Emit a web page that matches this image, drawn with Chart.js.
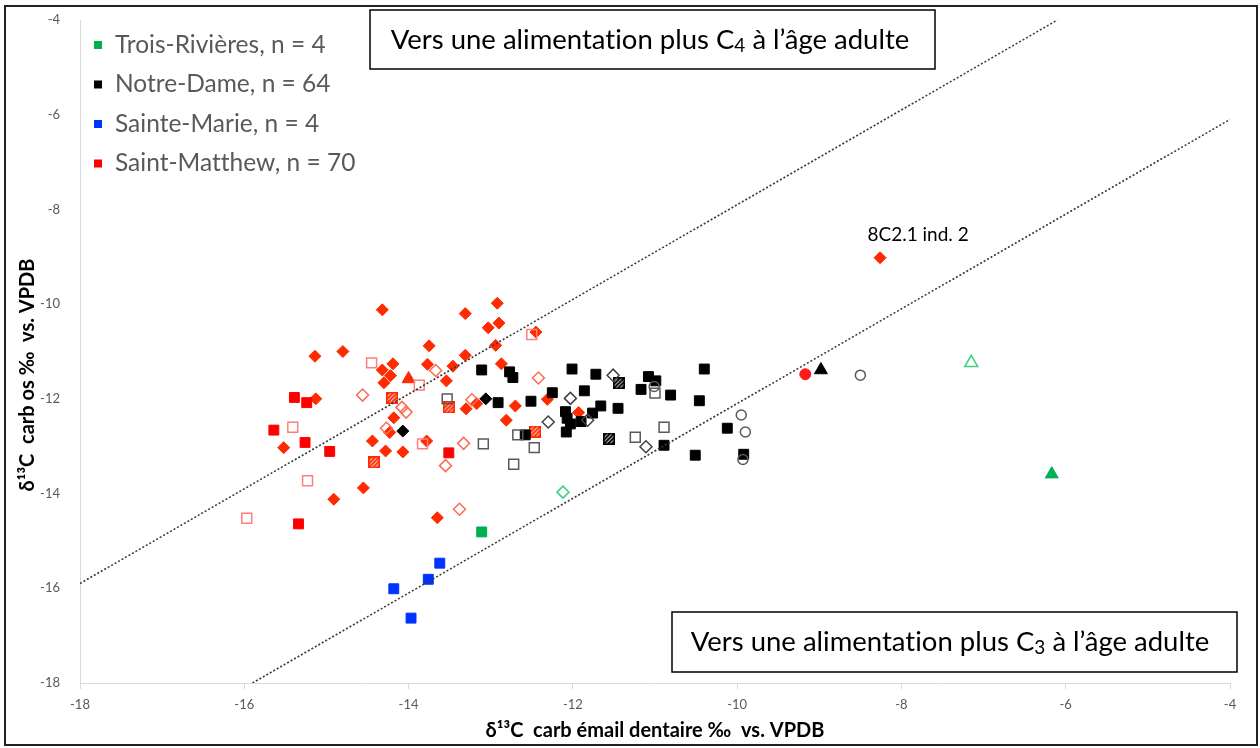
<!DOCTYPE html>
<html lang="fr">
<head>
<meta charset="utf-8">
<title>δ13C os vs émail dentaire</title>
<script src="https://cdn.jsdelivr.net/npm/chart.js@4.4.1/dist/chart.umd.min.js"></script>
<style>
  html, body { margin: 0; padding: 0; background: #fff; }
  #wrap { width: 1260px; height: 748px; position: relative; }
</style>
</head>
<body>
<div id="wrap"><canvas id="isoChart" width="1260" height="748"></canvas></div>
<script>
// [δ13C émail, δ13C os] pairs, grouped by site and marker
const stMatthewDiamonds = [
  [-14.32, -10.12], [-15.14, -11.10], [-14.80, -11.00], [-14.19, -11.26], [-14.32, -11.39],
  [-14.22, -11.51], [-14.30, -11.66], [-15.13, -12.00], [-14.18, -12.40], [-14.23, -12.71],
  [-15.52, -13.03], [-14.44, -12.89], [-14.28, -13.10], [-14.07, -13.12], [-14.55, -13.88],
  [-14.91, -14.12], [-12.92, -9.98], [-13.31, -10.20], [-13.03, -10.50], [-12.90, -10.40],
  [-12.45, -10.59], [-13.75, -10.88], [-12.94, -10.87], [-13.31, -11.08], [-13.77, -11.27],
  [-13.46, -11.31], [-12.87, -11.26], [-13.54, -11.62], [-13.30, -12.21], [-13.17, -12.10],
  [-12.70, -12.15], [-12.81, -12.45], [-12.31, -12.01], [-13.78, -12.89], [-13.65, -14.51],
  [-11.93, -12.29], [-8.26, -9.02]
];
const stMatthewSquares = [
  [-15.39, -11.97], [-15.24, -12.08], [-15.64, -12.66], [-15.26, -12.92], [-14.96, -13.11],
  [-15.34, -14.64], [-13.51, -13.14]
];
const stMatthewOpenSquares = [
  [-14.45, -11.24], [-15.41, -12.60], [-15.23, -13.73], [-15.97, -14.52], [-13.87, -11.71],
  [-13.83, -12.95], [-12.50, -10.64]
];
const stMatthewOpenDiamonds = [
  [-14.56, -11.92], [-14.08, -12.18], [-14.03, -12.28], [-14.27, -12.62], [-13.67, -11.40],
  [-12.42, -11.56], [-13.23, -12.02], [-13.33, -12.94], [-13.55, -13.41], [-13.38, -14.33]
];
const stMatthewHatched = [[-14.20, -11.98], [-14.42, -13.34], [-13.51, -12.18], [-12.46, -12.69]];
const stMatthewTriangles = [[-14.00, -11.58]];
const stMatthewCircles = [[-9.17, -11.48]];

const notreDameSquares = [
  [-13.11, -11.39], [-12.77, -11.43], [-12.73, -11.55], [-12.91, -12.08], [-12.51, -12.05],
  [-12.25, -11.87], [-12.01, -11.37], [-12.58, -12.76], [-12.09, -12.27], [-12.07, -12.41],
  [-12.03, -12.53], [-12.08, -12.70], [-11.90, -12.48], [-11.76, -12.30], [-11.66, -12.15],
  [-11.45, -12.20], [-11.86, -11.83], [-11.72, -11.48], [-11.08, -11.53], [-10.99, -11.62],
  [-11.17, -11.80], [-10.81, -11.92], [-10.40, -11.37], [-10.46, -12.04], [-10.89, -12.98],
  [-10.51, -13.19], [-10.12, -12.62], [-9.92, -13.17]
];
const notreDameDiamonds = [[-13.06, -12.00], [-14.07, -12.68]];
const notreDameTriangles = [[-8.98, -11.39]];
const notreDameHatched = [[-11.44, -11.67], [-11.56, -12.84]];
const notreDameOpenSquares = [
  [-13.53, -12.00], [-13.09, -12.95], [-12.72, -13.38], [-12.47, -13.03], [-12.67, -12.76],
  [-11.00, -11.88], [-10.89, -12.60], [-11.24, -12.81]
];
const notreDameOpenDiamonds = [
  [-12.03, -11.99], [-12.30, -12.49], [-11.51, -11.50], [-11.82, -12.45], [-11.11, -13.01]
];
const notreDameOpenCircles = [
  [-11.01, -11.74], [-9.95, -12.34], [-9.90, -12.70], [-9.93, -13.28], [-8.50, -11.50]
];

const steMarieSquares = [[-13.62, -15.47], [-13.76, -15.81], [-14.18, -16.01], [-13.97, -16.63]];

const troisRivSquares = [[-13.11, -14.81]];
const troisRivOpenDiamonds = [[-12.12, -13.97]];
const troisRivOpenTriangles = [[-7.15, -11.24]];
const troisRivTriangles = [[-6.17, -13.59]];

// dotted guides, one either side of the 1:1 line
const upperGuide = [[-18, -15.9], [-6.1, -4]];
const lowerGuide = [[-15.9, -18], [-4, -6.1]];

const siteNames = ['Trois-Rivières', 'Notre-Dame', 'Sainte-Marie', 'Saint-Matthew'];
const siteCounts = [4, 64, 4, 70];
const siteColors = ['#00b050', '#000000', '#0033ff', '#ff0000'];

const axisTicks = [-18, -16, -14, -12, -10, -8, -6, -4];

const FONT = 'Lato, "Open Sans", sans-serif';

function pts(arr) {
  return arr.map(p => ({ x: p[0], y: p[1] }));
}

function hatchedSquare(color) {
  const c = document.createElement('canvas');
  c.width = 12; c.height = 12;
  const g = c.getContext('2d');
  g.fillStyle = '#fff';
  g.fillRect(0, 0, 12, 12);
  g.save();
  g.beginPath(); g.rect(1, 1, 10, 10); g.clip();
  g.strokeStyle = color; g.lineWidth = 2;
  for (let k = -12; k < 24; k += 4) {
    g.beginPath(); g.moveTo(k, 12); g.lineTo(k + 12, 0); g.stroke();
  }
  g.restore();
  g.strokeStyle = color; g.lineWidth = 1.5;
  g.strokeRect(0.75, 0.75, 10.5, 10.5);
  return c;
}

function marks(label, arr, style) {
  return Object.assign({ label: label, data: pts(arr), showLine: false, borderWidth: 1 }, style);
}

const filled = (shape, color, r) => ({ pointStyle: shape, pointRadius: r, backgroundColor: color, borderColor: color });
const hollow = (shape, color, r) => ({ pointStyle: shape, pointRadius: r, backgroundColor: 'rgba(255,255,255,0)', borderColor: color, borderWidth: 1.5 });

const guide = (arr) => ({
  label: 'guide', data: pts(arr), showLine: true, pointRadius: 0,
  borderColor: '#3a3a3a', borderWidth: 1.6, borderDash: [2, 2], fill: false
});

const datasets = [
  guide(upperGuide),
  guide(lowerGuide),
  marks('Notre-Dame open squares', notreDameOpenSquares, hollow('rect', '#595959', 7)),
  marks('Notre-Dame open diamonds', notreDameOpenDiamonds, hollow('rectRot', '#404040', 6)),
  marks('Notre-Dame open circles', notreDameOpenCircles, hollow('circle', '#595959', 5)),
  marks('Saint-Matthew open squares', stMatthewOpenSquares, hollow('rect', '#ff7f7f', 7)),
  marks('Saint-Matthew open diamonds', stMatthewOpenDiamonds, hollow('rectRot', '#ff6a55', 6)),
  marks('Notre-Dame', notreDameSquares, filled('rect', '#000000', 7)),
  marks('Notre-Dame diamonds', notreDameDiamonds, filled('rectRot', '#000000', 6)),
  marks('Notre-Dame triangles', notreDameTriangles, filled('triangle', '#000000', 7.5)),
  marks('Notre-Dame hatched', notreDameHatched, { pointStyle: hatchedSquare('#000000') }),
  marks('Saint-Matthew', stMatthewSquares, filled('rect', '#ff0000', 7)),
  marks('Saint-Matthew diamonds', stMatthewDiamonds, filled('rectRot', '#ff2a00', 6)),
  marks('Saint-Matthew hatched', stMatthewHatched, { pointStyle: hatchedSquare('#ff2a00') }),
  marks('Saint-Matthew triangles', stMatthewTriangles, filled('triangle', '#ff2a00', 7.5)),
  marks('Saint-Matthew circles', stMatthewCircles, filled('circle', '#ff1a1a', 5.5)),
  marks('Sainte-Marie', steMarieSquares, filled('rect', '#0033ff', 7)),
  marks('Trois-Rivières', troisRivSquares, filled('rect', '#00b050', 7)),
  marks('Trois-Rivières open diamonds', troisRivOpenDiamonds, hollow('rectRot', '#3fcf80', 6)),
  marks('Trois-Rivières open triangles', troisRivOpenTriangles, hollow('triangle', '#3fcf80', 7.5)),
  marks('Trois-Rivières triangles', troisRivTriangles, filled('triangle', '#00b050', 7.5))
];

// text with a subscript part, centred on cx
function subText(ctx, cx, cy, before, sub, after, size) {
  const big = size + 'px ' + FONT;
  const small = Math.round(size * 0.68) + 'px ' + FONT;
  ctx.font = big;
  const w1 = ctx.measureText(before).width;
  const w3 = ctx.measureText(after).width;
  ctx.font = small;
  const w2 = ctx.measureText(sub).width;
  let x = cx - (w1 + w2 + w3) / 2;
  ctx.textAlign = 'left';
  ctx.textBaseline = 'middle';
  ctx.font = big;
  ctx.fillText(before, x, cy);
  x += w1;
  ctx.font = small;
  ctx.fillText(sub, x, cy + size * 0.22);
  x += w2;
  ctx.font = big;
  ctx.fillText(after, x, cy);
}

const decorPlugin = {
  id: 'decor',
  afterDraw(chart) {
    const ctx = chart.ctx;
    ctx.save();
    // keep "ti" etc. as separate glyphs
    ctx.textRendering = 'optimizeSpeed';

    // outer frame
    ctx.strokeStyle = '#222';
    ctx.lineWidth = 2;
    ctx.strokeRect(5, 6, 1252, 739);

    // legend inside the plot
    ctx.textAlign = 'left';
    ctx.textBaseline = 'middle';
    ctx.font = '24.5px ' + FONT;
    siteNames.forEach((name, i) => {
      const y = 45 + i * 39.5;
      ctx.fillStyle = siteColors[i];
      ctx.fillRect(94, y - 4, 8, 8);
      ctx.fillStyle = '#595959';
      ctx.fillText(name + ', n = ' + siteCounts[i], 115, y);
    });

    // direction boxes
    ctx.fillStyle = '#fff';
    ctx.fillRect(370, 10, 565, 59);
    ctx.fillRect(672, 612, 565, 60);
    ctx.strokeStyle = '#000';
    ctx.lineWidth = 1.5;
    ctx.strokeRect(370, 10, 565, 59);
    ctx.strokeRect(672, 612, 565, 60);
    ctx.fillStyle = '#000';
    subText(ctx, 650, 40, 'Vers une alimentation plus C', '4', ' à l’âge adulte', 27.5);
    subText(ctx, 950, 642, 'Vers une alimentation plus C', '3', ' à l’âge adulte', 27.5);

    // label for the outlying Saint-Matthew individual
    const meta = chart.getDatasetMeta(12);
    const pt = meta.data[meta.data.length - 1];
    ctx.font = '19px ' + FONT;
    ctx.textAlign = 'center';
    ctx.fillText('8C2.1 ind. 2', pt.x + 38, pt.y - 23);

    // axis titles
    ctx.font = 'bold 20px ' + FONT;
    ctx.fillText('δ¹³C  carb émail dentaire ‰  vs. VPDB', 655, 731);
    ctx.translate(28, 375);
    ctx.rotate(-Math.PI / 2);
    ctx.fillText('δ¹³C  carb os ‰  vs. VPDB', 0, 0);

    ctx.restore();
  }
};

new Chart(document.getElementById('isoChart'), {
  type: 'scatter',
  data: { datasets: datasets },
  options: {
    responsive: false,
    animation: false,
    layout: { padding: { top: 20, right: 30, bottom: 0, left: 0 } },
    plugins: { legend: { display: false }, tooltip: { enabled: false } },
    scales: {
      x: {
        type: 'linear', min: -18, max: -4,
        afterBuildTicks: s => { s.ticks = axisTicks.map(v => ({ value: v })); },
        afterFit: s => { s.height = 65; },
        grid: { drawOnChartArea: false, color: '#d9d9d9', tickLength: 6 },
        border: { color: '#d9d9d9' },
        ticks: { color: '#595959', font: { family: FONT, size: 13 }, padding: 8 }
      },
      y: {
        type: 'linear', min: -18, max: -4,
        afterBuildTicks: s => { s.ticks = axisTicks.map(v => ({ value: v })); },
        afterFit: s => { s.width = 80; },
        grid: { display: false },
        border: { display: true, color: '#d9d9d9' },
        ticks: { color: '#595959', font: { family: FONT, size: 13 }, padding: 12 }
      }
    }
  },
  plugins: [decorPlugin]
});
</script>
</body>
</html>
